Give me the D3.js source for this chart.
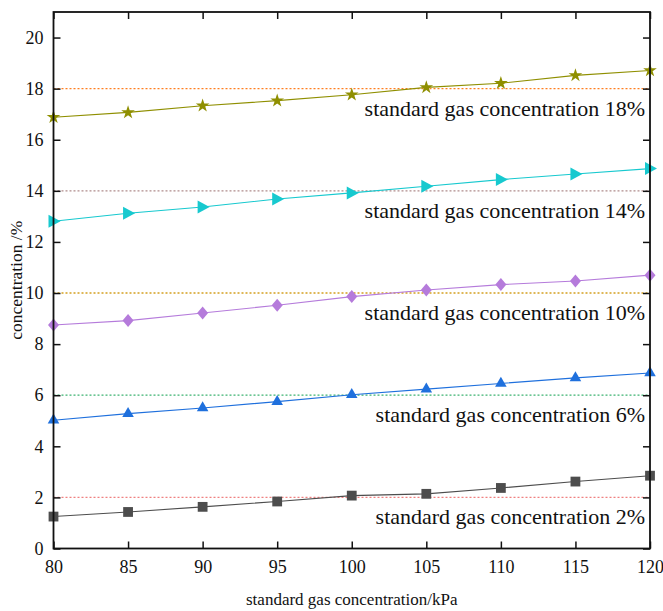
<!DOCTYPE html>
<html>
<head>
<meta charset="utf-8">
<script src="https://cdn.jsdelivr.net/npm/d3@7/dist/d3.min.js"></script>
<style>
  html, body { margin: 0; padding: 0; background: #fff; }
</style>
</head>
<body>
<svg id="chart" width="663" height="611" font-family="Liberation Serif"></svg>
<script>
// Pressure (kPa) on the x axis
const pressures = [80, 85, 90, 95, 100, 105, 110, 115, 120];

// Measured concentration (%) for each standard gas
const gas2  = [1.25, 1.43, 1.63, 1.84, 2.07, 2.14, 2.37, 2.62, 2.85];
const gas6  = [5.02, 5.28, 5.50, 5.75, 6.02, 6.24, 6.46, 6.68, 6.87];
const gas10 = [8.75, 8.92, 9.22, 9.52, 9.86, 10.12, 10.33, 10.47, 10.70];
const gas14 = [12.81, 13.12, 13.37, 13.68, 13.92, 14.18, 14.44, 14.66, 14.87];
const gas18 = [16.88, 17.07, 17.33, 17.53, 17.76, 18.05, 18.21, 18.52, 18.71];

// Nominal concentrations of the standard gases
const standards = [2, 6, 10, 14, 18];
const labels = standards.map(s => `standard gas concentration ${s}%`);

const yTicks = [0, 2, 4, 6, 8, 10, 12, 14, 16, 18, 20];
const xTicks = pressures;

const series = [
  { values: gas2,  color: "#4d4d4d", ref: "#f08080", shape: "square" },
  { values: gas6,  color: "#1f70dd", ref: "#3cb371", shape: "triUp" },
  { values: gas10, color: "#b57bdb", ref: "#d4a020", shape: "diamond" },
  { values: gas14, color: "#17c9cf", ref: "#b08c8c", shape: "triRight" },
  { values: gas18, color: "#8f8f00", ref: "#ff7f20", shape: "star" }
];

const FONT = "Liberation Serif";
const svg = d3.select("#chart");
const margin = { left: 53.5, right: 13, top: 12, bottom: 62.5 };
const W = 663, H = 611;
const x = d3.scaleLinear().domain([80, 120]).range([margin.left, W - margin.right]);
const y = d3.scaleLinear().domain([0, 21]).range([H - margin.bottom, margin.top]);

const x0 = x.range()[0], x1 = x.range()[1];
const y0 = y.range()[0], y1 = y.range()[1];

// Reference lines at each nominal concentration
series.forEach((s, i) => {
  svg.append("line")
    .attr("x1", x0).attr("x2", x1)
    .attr("y1", y(standards[i])).attr("y2", y(standards[i]))
    .attr("stroke", s.ref).attr("stroke-width", 1.3)
    .attr("stroke-dasharray", "2,2");
});

// Series labels, right-aligned under each reference line
standards.forEach((s, i) => {
  svg.append("text")
    .attr("x", x1 - 5)
    .attr("y", y(s) + 27)
    .attr("text-anchor", "end")
    .attr("font-family", FONT)
    .attr("font-size", 22)
    .attr("fill", "#111")
    .text(labels[i]);
});

// Marker shapes
const star5 = d3.symbol().type(d3.symbolStar).size(58);
const triUp = d3.symbol().type(d3.symbolTriangle).size(58);
const square = d3.symbol().type(d3.symbolSquare).size(96);
const diamond = "M0,-6.5L5.5,0L0,6.5L-5.5,0Z";
const triRight = "M-5,-6.5L7,0L-5,6.5Z";

function markerPath(shape) {
  switch (shape) {
    case "square": return square();
    case "triUp": return triUp();
    case "diamond": return diamond;
    case "triRight": return triRight;
    case "star": return star5();
  }
}

const line = d3.line().x((d, i) => x(pressures[i])).y(d => y(d));

series.forEach(s => {
  svg.append("path")
    .attr("d", line(s.values))
    .attr("fill", "none")
    .attr("stroke", s.color)
    .attr("stroke-width", 1.1);
  svg.append("g").selectAll("path")
    .data(s.values)
    .join("path")
    .attr("transform", (d, i) => `translate(${x(pressures[i])},${y(d)})`)
    .attr("d", markerPath(s.shape))
    .attr("fill", s.color);
});

// Axes with inward ticks on all four sides
const tickLen = 7;
const axisB = d3.axisBottom(x).tickValues(xTicks).tickSizeInner(-tickLen).tickSizeOuter(0).tickPadding(12);
const axisL = d3.axisLeft(y).tickValues(yTicks).tickSizeInner(-tickLen).tickSizeOuter(0).tickPadding(10);
const axisT = d3.axisTop(x).tickValues(xTicks).tickSizeInner(-tickLen).tickSizeOuter(0).tickFormat("");
const axisR = d3.axisRight(y).tickValues(yTicks).tickSizeInner(-tickLen).tickSizeOuter(0).tickFormat("");

function styleAxis(g) {
  g.attr("font-family", FONT).attr("font-size", 18);
  g.select(".domain").remove();
  g.selectAll(".tick line").attr("stroke", "#111").attr("stroke-width", 1.5);
  g.selectAll(".tick text")
    .attr("font-family", FONT)
    .attr("font-size", 18).attr("fill", "#111");
}

svg.append("g").attr("transform", `translate(0,${y0})`).call(axisB).call(styleAxis);
svg.append("g").attr("transform", `translate(${x0},0)`).call(axisL).call(styleAxis);
svg.append("g").attr("transform", `translate(0,${y1})`).call(axisT).call(styleAxis);
svg.append("g").attr("transform", `translate(${x1},0)`).call(axisR).call(styleAxis);

// Plot frame
svg.append("rect")
  .attr("x", x0).attr("y", y1)
  .attr("width", x1 - x0).attr("height", y0 - y1)
  .attr("fill", "none").attr("stroke", "#111").attr("stroke-width", 1.8);

// Axis titles
svg.append("text")
  .attr("x", (x0 + x1) / 2).attr("y", 605)
  .attr("text-anchor", "middle")
  .attr("font-family", FONT).attr("font-size", 17).attr("fill", "#111")
  .text("standard gas concentration/kPa");

svg.append("text")
  .attr("transform", `translate(22,${(y0 + y1) / 2}) rotate(-90)`)
  .attr("text-anchor", "middle")
  .attr("font-family", FONT).attr("font-size", 17.5).attr("fill", "#111")
  .text("concentration /%");
</script>
</body>
</html>
